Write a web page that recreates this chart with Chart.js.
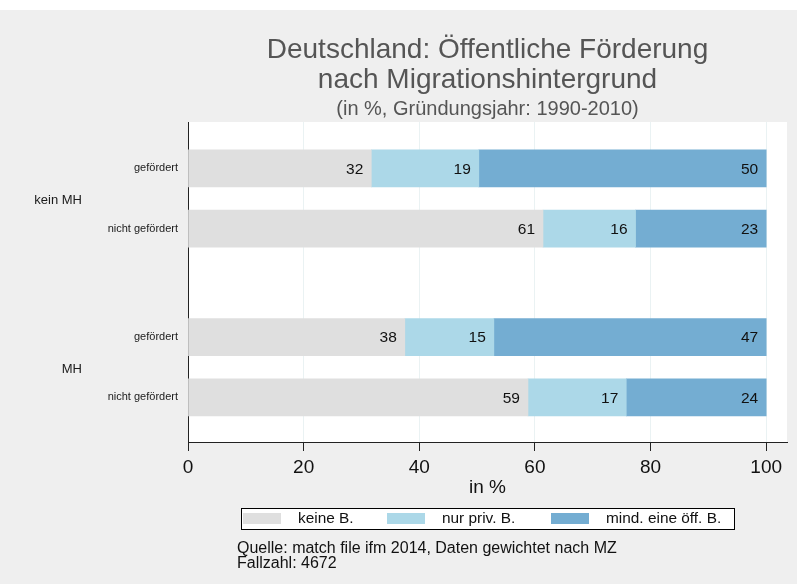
<!DOCTYPE html>
<html>
<head>
<meta charset="utf-8">
<script src="https://cdn.jsdelivr.net/npm/chart.js@4"></script>
<style>
  body { margin: 0; background: #ffffff; }
  canvas { display: block; }
</style>
</head>
<body>
<canvas id="grafik" width="797" height="584"></canvas>
<script>
// Daten
var gruppen = ['kein MH', 'MH'];
var zeilen = ['gefördert', 'nicht gefördert', 'gefördert', 'nicht gefördert'];
var keineB = [31.7, 61.4, 37.5, 58.8];
var nurPrivB = [18.6, 16.0, 15.4, 17.0];
var mindOeffB = [49.7, 22.6, 47.1, 24.2];
var serien = ['keine B.', 'nur priv. B.', 'mind. eine öff. B.'];
var xTicks = [0, 20, 40, 60, 80, 100];

// Position der Zeilen auf der y-Achse (Lücke zwischen den Gruppen)
var zeilenPos = [1, 2, 3.8, 4.8];

var farben = ['#dfdfdf', '#acd8e8', '#74add2'];
var schrift = '"Liberation Sans", Arial, Helvetica, sans-serif';

function punkte(werte) {
    return werte.map(function (v, i) { return { x: v, y: zeilenPos[i] }; });
}

var hintergrund = {
    id: 'hintergrund',
    beforeDraw: function (chart) {
        var ctx = chart.ctx;
        var a = chart.chartArea;
        ctx.save();
        ctx.fillStyle = '#ffffff';
        ctx.fillRect(0, 0, chart.width, chart.height);
        ctx.fillStyle = '#efefef';
        ctx.fillRect(0, 10, chart.width, chart.height - 10);
        ctx.fillStyle = '#ffffff';
        ctx.fillRect(a.left, a.top, a.right - a.left, a.bottom - a.top);
        ctx.restore();
    }
};

var texte = {
    id: 'texte',
    afterDraw: function (chart) {
        var ctx = chart.ctx;
        var a = chart.chartArea;
        var mitte = (a.left + a.right) / 2;
        ctx.save();
        ctx.textBaseline = 'alphabetic';

        // Titel
        ctx.fillStyle = '#555555';
        ctx.textAlign = 'center';
        ctx.font = '28px ' + schrift;
        ctx.fillText('Deutschland: Öffentliche Förderung', mitte, 58);
        ctx.fillText('nach Migrationshintergrund', mitte, 87.5);
        ctx.font = '20px ' + schrift;
        ctx.fillText('(in %, Gründungsjahr: 1990-2010)', mitte, 114.5);

        // Gruppenbeschriftung
        var y = chart.scales.y;
        ctx.fillStyle = '#1a1a1a';
        ctx.textAlign = 'right';
        ctx.textBaseline = 'middle';
        ctx.font = '13px ' + schrift;
        ctx.fillText(gruppen[0], 82, y.getPixelForValue((zeilenPos[0] + zeilenPos[1]) / 2) + 2);
        ctx.fillText(gruppen[1], 82, y.getPixelForValue((zeilenPos[2] + zeilenPos[3]) / 2) + 2);

        // Legende
        ctx.fillStyle = '#ffffff';
        ctx.fillRect(241, 508, 493, 21);
        ctx.strokeStyle = '#000000';
        ctx.lineWidth = 1;
        ctx.strokeRect(241.5, 508.5, 493, 21);
        var swX = [243, 387, 551];
        ctx.font = '15.4px ' + schrift;
        ctx.textAlign = 'left';
        for (var i = 0; i < serien.length; i++) {
            ctx.fillStyle = farben[i];
            ctx.fillRect(swX[i], 513, 38, 11);
            ctx.fillStyle = '#111111';
            ctx.fillText(serien[i], swX[i] + 55, 519);
        }

        // Quelle
        ctx.font = '16px ' + schrift;
        ctx.textBaseline = 'alphabetic';
        ctx.fillText('Quelle: match file ifm 2014, Daten gewichtet nach MZ', 237, 553);
        ctx.fillText('Fallzahl: 4672', 237, 568);
        ctx.restore();
    }
};

var werteLabels = {
    id: 'werteLabels',
    afterDatasetsDraw: function (chart) {
        var ctx = chart.ctx;
        ctx.save();
        ctx.font = '15.5px ' + schrift;
        ctx.fillStyle = '#111111';
        ctx.textAlign = 'right';
        ctx.textBaseline = 'middle';
        chart.data.datasets.forEach(function (ds, d) {
            chart.getDatasetMeta(d).data.forEach(function (bar, i) {
                ctx.fillText(Math.round(ds.data[i].x), bar.x - 8, bar.y + 1);
            });
        });
        ctx.restore();
    }
};

var ctx = document.getElementById('grafik').getContext('2d');
new Chart(ctx, {
    type: 'bar',
    data: {
        datasets: [
            { label: serien[0], data: punkte(keineB), backgroundColor: farben[0] },
            { label: serien[1], data: punkte(nurPrivB), backgroundColor: farben[1] },
            { label: serien[2], data: punkte(mindOeffB), backgroundColor: farben[2] }
        ]
    },
    options: {
        indexAxis: 'y',
        responsive: false,
        animation: false,
        barThickness: 37,
        borderSkipped: false,
        layout: { padding: { top: 122, right: 10, left: 0, bottom: 82 } },
        plugins: {
            legend: { display: false },
            title: { display: false },
            tooltip: { enabled: false }
        },
        scales: {
            x: {
                type: 'linear',
                stacked: true,
                min: 0,
                max: 103.6,
                afterBuildTicks: function (scale) {
                    scale.ticks = xTicks.map(function (v) { return { value: v }; });
                },
                afterFit: function (scale) { scale.height = 60; },
                grid: { color: '#eaf2f3', tickColor: '#222222', tickLength: 9 },
                border: { color: '#222222', width: 1 },
                ticks: {
                    color: '#111111',
                    padding: 5,
                    maxRotation: 0,
                    font: { family: schrift, size: 19 }
                },
                title: {
                    display: true,
                    text: 'in %',
                    color: '#111111',
                    font: { family: schrift, size: 19, lineHeight: 1.2 },
                    padding: { top: 0, bottom: 3 }
                }
            },
            y: {
                type: 'linear',
                stacked: true,
                reverse: true,
                offset: false,
                min: 0.23,
                max: 5.54,
                afterBuildTicks: function (scale) {
                    scale.ticks = zeilenPos.map(function (v) { return { value: v }; });
                },
                afterFit: function (scale) { scale.width = 188; },
                grid: { display: false, drawTicks: false },
                border: { color: '#222222', width: 1 },
                ticks: {
                    color: '#1a1a1a',
                    padding: 10,
                    font: { family: schrift, size: 11 },
                    callback: function (value, index) { return zeilen[index]; }
                }
            }
        }
    },
    plugins: [hintergrund, werteLabels, texte]
});
</script>
</body>
</html>
